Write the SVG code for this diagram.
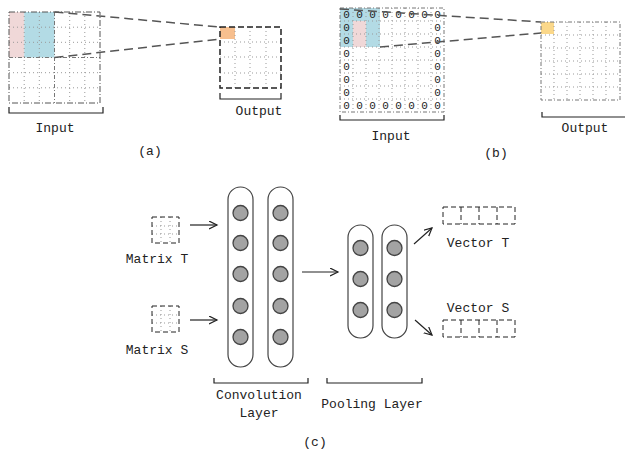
<svg xmlns="http://www.w3.org/2000/svg" width="625" height="451" viewBox="0 0 625 451">
<defs>
<style>
.t{font-family:"Liberation Mono","DejaVu Sans Mono",monospace;font-size:13px;fill:#222;text-anchor:middle}
.z{font-family:"Liberation Mono","DejaVu Sans Mono",monospace;font-size:11px;fill:#222;text-anchor:middle}
.dot{stroke:#999;stroke-width:1;stroke-dasharray:1,3;fill:none}
.dd{stroke:#555;stroke-width:1;stroke-dasharray:6,2,1,2;fill:none}
.hd{stroke:#222;stroke-width:1.5;stroke-dasharray:6,3;fill:none}
.gd{stroke:#777;stroke-width:1;stroke-dasharray:4,2,1,2;fill:none}
.br{stroke:#222;stroke-width:1.2;fill:none}
.cn{stroke:#555;stroke-width:1.5;stroke-dasharray:9,5;fill:none}
.ar{stroke:#222;stroke-width:1.2;fill:none;marker-end:url(#ah)}
.cap{fill:#fff;stroke:#444;stroke-width:1.2}
.cir{fill:#a3a3a3;stroke:#444;stroke-width:1.3}
.vb{stroke:#222;stroke-width:1;stroke-dasharray:5,3;fill:none}
</style>
<marker id="ah" markerWidth="10" markerHeight="10" refX="8" refY="4" orient="auto" markerUnits="userSpaceOnUse">
<path d="M0,0 L8,4 L0,8" fill="none" stroke="#222" stroke-width="1.2"/>
</marker>
</defs>

<!-- Panel (a) -->
<g id="a-input">
<rect x="9" y="12" width="15.2" height="45.5" fill="#f0d8d8"/>
<rect x="24.2" y="12" width="30.3" height="45.5" fill="#b3dbe5"/>
<path class="dot" d="M24.2,12V103M39.3,12V103M69.7,12V103M84.8,12V103M9,27.2H100M9,42.3H100M9,72.7H100M9,87.8H100"/>
<path class="gd" d="M54.5,12V103M9,57.5H100"/>
<rect class="dd" x="9" y="12" width="91" height="91"/>
<path class="br" d="M9,107V113H103V107"/>
<text class="t" x="55" y="132">Input</text>
</g>
<g id="a-output">
<rect x="220" y="27" width="15" height="12" fill="#f7bf8e"/>
<path class="dot" d="M235,27V88M250,27V88M266,27V88M220,42H281M220,57H281M220,73H281"/>
<rect class="hd" x="220" y="27" width="61" height="61"/>
<path class="br" d="M220,93V99H281V93"/>
<text class="t" x="259" y="115">Output</text>
</g>
<text class="t" x="150" y="155">(a)</text>

<!-- Panel (b) -->
<g id="b-input">
<rect x="340" y="8" width="40" height="39" fill="#b3dbe5"/>
<rect x="353" y="21" width="13" height="26" fill="#f0d8d8"/>
<path class="dot" d="M353,8V112M366,8V112M379,8V112M392,8V112M405,8V112M418,8V112M431,8V112M340,21H444M340,34H444M340,47H444M340,60H444M340,73H444M340,86H444M340,99H444"/>
<rect class="gd" x="340" y="8" width="104" height="104"/>
<g class="z">
<text x="346.5" y="18">0</text><text x="359.5" y="18">0</text><text x="372.5" y="18">0</text><text x="385.5" y="18">0</text><text x="398.5" y="18">0</text><text x="411.5" y="18">0</text><text x="424.5" y="18">0</text><text x="437.5" y="18">0</text>
<text x="346.5" y="31">0</text><text x="437.5" y="31">0</text>
<text x="346.5" y="44">0</text><text x="437.5" y="44">0</text>
<text x="346.5" y="57">0</text><text x="437.5" y="57">0</text>
<text x="346.5" y="70">0</text><text x="437.5" y="70">0</text>
<text x="346.5" y="83">0</text><text x="437.5" y="83">0</text>
<text x="346.5" y="96">0</text><text x="437.5" y="96">0</text>
<text x="346.5" y="109">0</text><text x="359.5" y="109">0</text><text x="372.5" y="109">0</text><text x="385.5" y="109">0</text><text x="398.5" y="109">0</text><text x="411.5" y="109">0</text><text x="424.5" y="109">0</text><text x="437.5" y="109">0</text>
</g>
<path class="br" d="M340,115V120H444V115"/>
<text class="t" x="391" y="140">Input</text>
</g>
<g id="b-output">
<rect x="541" y="22" width="13" height="12" fill="#fbd88a"/>
<path class="dot" d="M554,22V100M567,22V100M580,22V100M593,22V100M606,22V100M541,35H620M541,48H620M541,61H620M541,74H620M541,87H620"/>
<rect class="gd" x="541" y="22" width="79" height="78"/>
<path class="br" d="M542,112V117H626"/>
<text class="t" x="585" y="132">Output</text>
</g>
<text class="t" x="496" y="157">(b)</text>

<!-- Panel (c) -->
<g id="matrix-t">
<path class="dot" d="M152,226H179M152,234H179M161,217V243M170,217V243"/>
<rect class="vb" x="152" y="217" width="27" height="26" stroke-dasharray="4,3"/>
<text class="t" x="157" y="263">Matrix T</text>
</g>
<g id="matrix-s">
<path class="dot" d="M152,315H179M152,323H179M161,306V332M170,306V332"/>
<rect class="vb" x="152" y="306" width="27" height="26" stroke-dasharray="4,3"/>
<text class="t" x="157" y="354">Matrix S</text>
</g>
<g id="conv-layer">
<rect class="cap" x="228" y="187" width="25" height="180" rx="12.5"/>
<rect class="cap" x="268" y="187" width="25" height="180" rx="12.5"/>
<circle class="cir" cx="240.5" cy="213" r="7.5"/><circle class="cir" cx="240.5" cy="243" r="7.5"/><circle class="cir" cx="240.5" cy="274" r="7.5"/><circle class="cir" cx="240.5" cy="306" r="7.5"/><circle class="cir" cx="240.5" cy="337" r="7.5"/>
<circle class="cir" cx="280.5" cy="213" r="7.5"/><circle class="cir" cx="280.5" cy="243" r="7.5"/><circle class="cir" cx="280.5" cy="274" r="7.5"/><circle class="cir" cx="280.5" cy="306" r="7.5"/><circle class="cir" cx="280.5" cy="337" r="7.5"/>
<path class="br" d="M214,378V383H308V378"/>
<text class="t" x="259" y="399">Convolution</text>
<text class="t" x="259" y="417">Layer</text>
</g>
<g id="pooling-layer">
<rect class="cap" x="348" y="225" width="25" height="113" rx="12.5"/>
<rect class="cap" x="382" y="225" width="25" height="113" rx="12.5"/>
<circle class="cir" cx="360.5" cy="248" r="7.5"/><circle class="cir" cx="360.5" cy="279" r="7.5"/><circle class="cir" cx="360.5" cy="310" r="7.5"/>
<circle class="cir" cx="394.5" cy="248" r="7.5"/><circle class="cir" cx="394.5" cy="279" r="7.5"/><circle class="cir" cx="394.5" cy="310" r="7.5"/>
<path class="br" d="M327,378V383H422V378"/>
<text class="t" x="372" y="408">Pooling Layer</text>
</g>
<g id="vector-t">
<rect class="vb" x="443" y="207" width="72" height="17"/>
<path class="vb" d="M461,207V224M479,207V224M497,207V224"/>
<text class="t" x="478" y="247">Vector T</text>
</g>
<g id="vector-s">
<rect class="vb" x="443" y="320" width="72" height="17"/>
<path class="vb" d="M461,320V337M479,320V337M497,320V337"/>
<text class="t" x="478" y="312">Vector S</text>
</g>
<text class="t" x="315" y="446">(c)</text>

<g id="connectors">
<line class="cn" x1="54.5" y1="12" x2="220" y2="27"/>
<line class="cn" x1="54.5" y1="57.5" x2="220" y2="39"/>
<line class="cn" x1="340" y1="9" x2="541" y2="22"/>
<line class="cn" x1="380" y1="47" x2="541" y2="33"/>
<line class="ar" x1="190" y1="225" x2="217" y2="225"/>
<line class="ar" x1="190" y1="320" x2="217" y2="320"/>
<line class="ar" x1="302" y1="272" x2="338" y2="272"/>
<line class="ar" x1="414" y1="244" x2="432" y2="228"/>
<line class="ar" x1="415" y1="320" x2="432" y2="335"/>
</g>
</svg>
